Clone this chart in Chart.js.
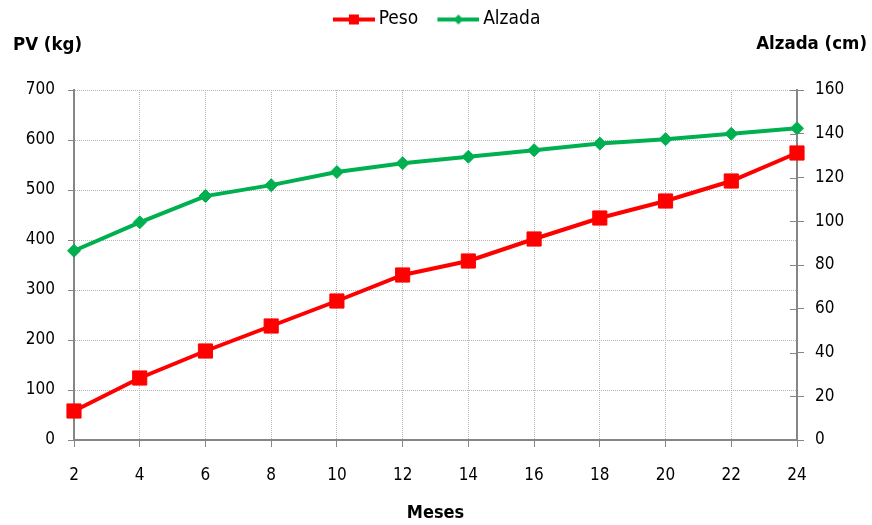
<!DOCTYPE html>
<html>
<head>
<meta charset="utf-8">
<script src="https://cdn.jsdelivr.net/npm/chart.js@4/dist/chart.umd.min.js"></script>
<style>
  html, body { margin: 0; padding: 0; background: #ffffff; }
  canvas { display: block; }
</style>
</head>
<body>
<canvas id="c" width="872" height="525"></canvas>
<script>
// Months on the x axis
const meses = ['2', '4', '6', '8', '10', '12', '14', '16', '18', '20', '22', '24'];
// Live weight (kg), left axis
const peso = [58, 124, 178, 228, 278, 330, 358, 402, 444, 478, 518, 574];
// Height at withers (cm), right axis
const alzada = [86.5, 99.5, 111.5, 116.5, 122.5, 126.5, 129.5, 132.5, 135.5, 137.5, 140, 142.5];
const nombres = ['Peso', 'Alzada'];
const tituloIzq = 'PV (kg)';
const tituloDer = 'Alzada (cm)';
const tituloX = 'Meses';

const FONT = '"DejaVu Sans Condensed", "Liberation Sans Narrow", "Open Sans", sans-serif';
const ROJO = '#ff0000';
const VERDE = '#00b050';
const EJE = '#868686';
const REJILLA = '#b4b4b4';

// Legend swatch: a short line with the series marker on it.
// The line sits at the right end of the canvas so it hugs the label text.
function swatch(color, marker) {
  const cv = document.createElement('canvas');
  cv.width = 57; cv.height = 14;
  const g = cv.getContext('2d');
  g.strokeStyle = color; g.lineWidth = 4;
  g.beginPath(); g.moveTo(15, 7); g.lineTo(57, 7); g.stroke();
  g.fillStyle = color;
  if (marker === 'rect') {
    g.fillRect(31, 2, 10, 10);
  } else {
    g.beginPath();
    g.moveTo(36, 2); g.lineTo(41, 7); g.lineTo(36, 12); g.lineTo(31, 7);
    g.closePath(); g.fill();
  }
  return cv;
}
const swatches = [swatch(ROJO, 'rect'), swatch(VERDE, 'diamond')];

// Fixed legend band height so the plot starts at the same place,
// with the legend nudged a little to the left
const legendBand = {
  id: 'legendBand',
  afterInit(chart) {
    const lg = chart.legend;
    if (!lg) return;
    const fit = lg.fit;
    lg.fit = function () { fit.call(this); this.height = 90; };
    const draw = lg.draw;
    lg.draw = function () {
      const ctx = this.ctx;
      ctx.save();
      ctx.translate(-4, 0);
      draw.call(this);
      ctx.restore();
    };
  }
};

// Axis captions above each y axis and inner tick marks on the right axis
const extras = {
  id: 'extras',
  afterDraw(chart) {
    const ctx = chart.ctx;
    const y2 = chart.scales.y2;
    ctx.save();
    ctx.strokeStyle = EJE; ctx.lineWidth = 1;
    y2.ticks.forEach((t, i) => {
      const py = Math.round(y2.getPixelForTick(i)) + 0.5;
      ctx.beginPath(); ctx.moveTo(y2.left - 7, py); ctx.lineTo(y2.left, py); ctx.stroke();
    });
    ctx.fillStyle = '#000';
    ctx.font = 'bold 18.5px ' + FONT;
    ctx.textBaseline = 'middle';
    ctx.textAlign = 'left';
    ctx.fillText(tituloIzq, 13, 45);
    ctx.textAlign = 'right';
    ctx.fillText(tituloDer, 867, 44);
    ctx.restore();
  }
};

new Chart(document.getElementById('c'), {
  type: 'line',
  data: {
    labels: meses,
    datasets: [
      {
        label: nombres[0], data: peso, yAxisID: 'y',
        borderColor: ROJO, backgroundColor: ROJO, borderWidth: 4,
        pointStyle: 'rect', pointRadius: 10, pointBorderWidth: 1,
        pointBackgroundColor: ROJO, pointBorderColor: ROJO,
        tension: 0, clip: false
      },
      {
        label: nombres[1], data: alzada, yAxisID: 'y2',
        borderColor: VERDE, backgroundColor: VERDE, borderWidth: 4,
        pointStyle: 'rectRot', pointRadius: 6.5, pointBorderWidth: 1,
        pointBackgroundColor: VERDE, pointBorderColor: VERDE,
        tension: 0, clip: false
      }
    ]
  },
  options: {
    responsive: false,
    animation: false,
    devicePixelRatio: 1,
    layout: { padding: 0 },
    plugins: {
      tooltip: { enabled: false },
      legend: {
        position: 'top',
        labels: {
          usePointStyle: true,
          pointStyleWidth: 45.5,
          padding: 10,
          color: '#000',
          font: { family: FONT, size: 19 },
          generateLabels(chart) {
            return chart.data.datasets.map((d, i) => ({
              text: d.label,
              pointStyle: swatches[i],
              fillStyle: d.borderColor,
              strokeStyle: d.borderColor,
              lineWidth: 0,
              hidden: false,
              datasetIndex: i
            }));
          }
        }
      }
    },
    scales: {
      x: {
        type: 'category',
        offset: false,
        grid: { color: REJILLA, lineWidth: 1, tickColor: EJE, tickLength: 7, drawTicks: true },
        border: { color: EJE, width: 2, dash: [1, 1] },
        ticks: { color: '#000', font: { family: FONT, size: 17 }, padding: 18, maxRotation: 0 },
        title: {
          display: true, text: tituloX, color: '#000',
          font: { family: FONT, size: 18, weight: 'bold' },
          padding: { top: 0, bottom: 1 }
        },
        afterFit(s) { s.height = 85; }
      },
      y: {
        position: 'left',
        min: 0, max: 700,
        ticks: { stepSize: 100, color: '#000', font: { family: FONT, size: 17 }, padding: 13 },
        grid: { color: REJILLA, lineWidth: 1, tickColor: EJE, tickLength: 6 },
        border: { color: EJE, width: 2, dash: [1, 1] },
        afterFit(s) { s.width = 74; }
      },
      y2: {
        position: 'right',
        min: 0, max: 160,
        ticks: { stepSize: 20, color: '#000', font: { family: FONT, size: 17 }, padding: 11 },
        grid: { drawOnChartArea: false, tickColor: EJE, tickLength: 7 },
        border: { color: EJE, width: 2 },
        afterFit(s) { s.width = 75; }
      }
    }
  },
  plugins: [legendBand, extras]
});
</script>
</body>
</html>
